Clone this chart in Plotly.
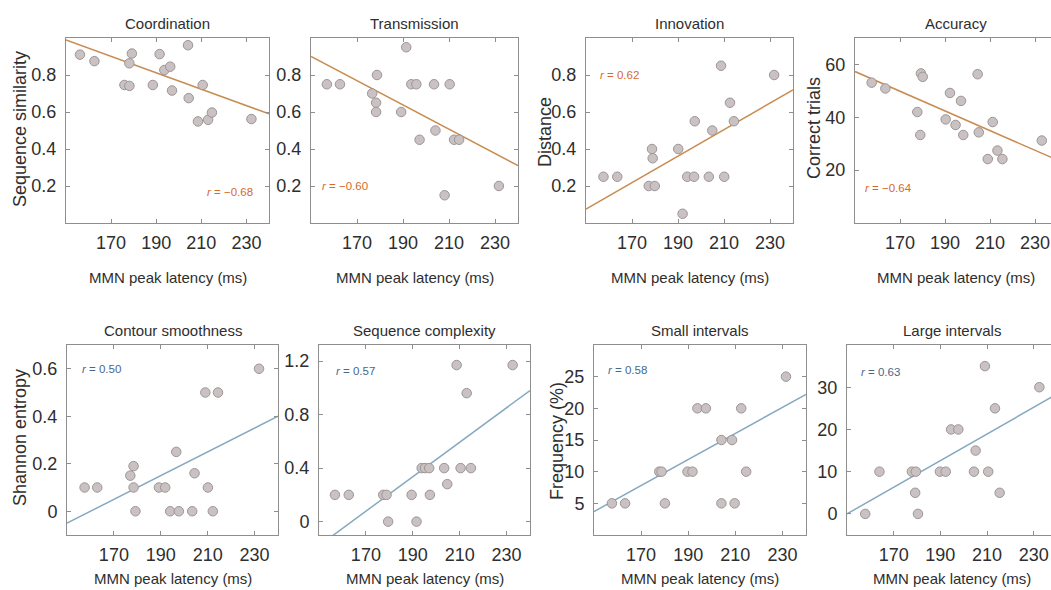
import plotly.graph_objects as go

W, H = 1051, 590

# ---------------- data ----------------
coord_x = [156.2, 162.6, 175.9, 178.1, 178.1, 179.2, 188.5, 191.5, 193.6, 196.2, 197.0, 204.1, 204.4, 208.5, 210.6, 213.0, 214.7, 232.2]
coord_y = [0.91, 0.875, 0.746, 0.741, 0.863, 0.916, 0.746, 0.913, 0.827, 0.845, 0.716, 0.961, 0.675, 0.549, 0.746, 0.558, 0.597, 0.562]

trans_x = [156.9, 162.6, 176.6, 178.7, 178.3, 178.3, 189.2, 191.4, 193.6, 195.8, 197.2, 203.5, 204.1, 208.1, 210.3, 212.2, 214.4, 231.7]
trans_y = [0.75, 0.75, 0.70, 0.80, 0.65, 0.60, 0.60, 0.95, 0.75, 0.75, 0.45, 0.75, 0.50, 0.15, 0.75, 0.45, 0.45, 0.20]

innov_x = [157.6, 163.6, 177.3, 179.9, 178.7, 179.0, 190.1, 192.0, 194.0, 197.0, 197.3, 203.4, 204.9, 208.7, 210.1, 212.6, 214.3, 231.8]
innov_y = [0.25, 0.25, 0.20, 0.20, 0.40, 0.35, 0.40, 0.05, 0.25, 0.25, 0.55, 0.25, 0.50, 0.85, 0.25, 0.65, 0.55, 0.80]

acc_x = [157.4, 163.5, 177.7, 179.3, 180.1, 179.0, 190.3, 192.2, 194.7, 197.1, 198.1, 204.5, 205.0, 209.0, 211.2, 213.3, 215.5, 233.0]
acc_y = [53.1, 50.9, 42.0, 56.6, 55.3, 33.3, 39.2, 49.2, 37.1, 46.2, 33.3, 56.3, 34.3, 24.2, 38.2, 27.4, 24.2, 31.2]

cont_x = [157.5, 162.9, 177.0, 178.4, 178.4, 179.2, 189.2, 191.9, 194.0, 196.6, 197.7, 203.4, 204.4, 209.0, 210.1, 212.2, 214.4, 231.9]
cont_y = [0.10, 0.10, 0.15, 0.19, 0.10, 0.00, 0.10, 0.10, 0.00, 0.25, 0.00, 0.00, 0.16, 0.50, 0.10, 0.00, 0.50, 0.60]

compl_x = [156.8, 162.7, 177.4, 178.8, 179.5, 189.5, 191.6, 193.8, 195.2, 197.0, 197.3, 203.4, 204.7, 208.7, 210.4, 213.0, 214.8, 232.6]
compl_y = [0.20, 0.20, 0.20, 0.20, 0.00, 0.20, 0.00, 0.40, 0.40, 0.40, 0.20, 0.40, 0.28, 1.17, 0.40, 0.96, 0.40, 1.17]

small_x = [157.6, 163.2, 177.7, 178.7, 180.1, 189.7, 191.8, 193.9, 197.5, 204.1, 204.1, 208.6, 209.7, 212.5, 214.6, 231.5]
small_y = [5, 5, 10, 10, 5, 10, 10, 20, 20, 15, 5, 15, 5, 20, 10, 25]

large_x = [157.8, 163.9, 177.8, 179.5, 179.2, 180.4, 189.8, 192.3, 194.6, 197.7, 204.4, 205.1, 209.1, 210.5, 213.4, 215.4, 232.4]
large_y = [0, 10, 10, 10, 5, 0, 10, 10, 20, 20, 10, 15, 35, 10, 25, 5, 30]

# regression line end points (at x = 150 and x = 240)
fit_x = [150, 240]
coord_fit = [0.99, 0.59]
trans_fit = [0.90, 0.31]
innov_fit = [0.075, 0.72]
acc_fit = [57.3, 23.8]
cont_fit = [-0.05, 0.40]
compl_fit = [-0.18, 0.98]
small_fit = [3.7, 22.2]
large_fit = [0.0, 28.4]

titles = ["Coordination", "Transmission", "Innovation", "Accuracy",
          "Contour smoothness", "Sequence complexity", "Small intervals", "Large intervals"]
ytitles = ["Sequence similarity", None, "Distance", "Correct trials",
           "Shannon entropy", None, "Frequency (%)", None]
r_texts = ["\u22120.68", "\u22120.60", "0.62", "\u22120.64", "0.50", "0.57", "0.58", "0.63"]
x_ticks = [170, 190, 210, 230]

# ---------------- styling / layout ----------------
ORANGE_LINE = "#c98c52"
ORANGE_TXT = "#d6692a"
BLUE_LINE = "#86a9c0"
BLUE_TXT = "#46698a"
FONT = "Liberation Sans, Arial, sans-serif"
TXT = "#2e2e2e"
AX = "#8e8e8e"

series = [
    (coord_x, coord_y, coord_fit), (trans_x, trans_y, trans_fit),
    (innov_x, innov_y, innov_fit), (acc_x, acc_y, acc_fit),
    (cont_x, cont_y, cont_fit), (compl_x, compl_y, compl_fit),
    (small_x, small_y, small_fit), (large_x, large_y, large_fit),
]

# pixel boxes: (left, right, top, bottom)
boxes = [
    (66, 269, 38, 223), (311, 518, 38, 223), (586, 793, 38, 223), (855, 1051, 38, 223),
    (67, 278, 345, 535), (319, 530, 345, 535), (594, 806, 345, 535), (847, 1051, 345, 535),
]
xranges = [[150, 240], [150, 240], [150, 240], [150, 237.1],
           [150, 240], [150, 240], [150, 240], [150, 237.4]]
yranges = [[0, 1], [0, 1], [0, 1], [0, 70], [-0.1, 0.7], [-0.1, 1.32], [0, 30], [-5, 40]]
yticks = [[0.2, 0.4, 0.6, 0.8], [0.2, 0.4, 0.6, 0.8], [0.2, 0.4, 0.6, 0.8], [20, 40, 60],
          [0, 0.2, 0.4, 0.6], [0, 0.4, 0.8, 1.2], [5, 10, 15, 20, 25], [0, 10, 20, 30]]
r_pos = [(234, 0.17, "right"), (154, 0.2, "left"), (155, 0.8, "left"), (153.6, 13.3, "left"),
         (155.5, 0.6, "left"), (156.4, 1.125, "left"), (155, 26, "left"), (155, 33.7, "left")]
ytitle_px = [(20, 129), None, (545, 132), (814, 128), (20, 438), None, (557, 441), None]

fig = go.Figure()
annotations = []
layout = {}

for i in range(8):
    n = i + 1
    xs, ys, fit = series[i]
    blue = i >= 4
    lc = BLUE_LINE if blue else ORANGE_LINE
    tc = BLUE_TXT if blue else ORANGE_TXT
    xa = "x" if n == 1 else f"x{n}"
    ya = "y" if n == 1 else f"y{n}"
    fig.add_trace(go.Scatter(x=fit_x, y=fit, mode="lines", xaxis=xa, yaxis=ya,
                             line=dict(color=lc, width=1.5), hoverinfo="skip", showlegend=False))
    fig.add_trace(go.Scatter(x=xs, y=ys, mode="markers", xaxis=xa, yaxis=ya,
                             marker=dict(size=9.5, color="#c9c1c2", line=dict(color="#9d9596", width=1)),
                             showlegend=False))
    l, r, t, b = boxes[i]
    cut = r >= W
    layout["xaxis" if n == 1 else f"xaxis{n}"] = dict(
        domain=[l / W, min(r / W, 1.0)], range=xranges[i], anchor=ya,
        tickvals=x_ticks, ticks="inside", ticklen=4, tickcolor=AX,
        showline=True, linecolor=AX, linewidth=1, mirror="ticks",
        showgrid=False, zeroline=False, automargin=False,
        tickfont=dict(size=18, color=TXT, family=FONT), ticklabelstandoff=3,
    )
    layout["yaxis" if n == 1 else f"yaxis{n}"] = dict(
        domain=[1 - b / H, 1 - t / H], range=yranges[i], anchor=xa,
        tickvals=yticks[i], ticks="inside", ticklen=4, tickcolor=AX,
        showline=True, linecolor=AX, linewidth=1, mirror=(False if cut else "ticks"),
        showgrid=False, zeroline=False, automargin=False,
        tickfont=dict(size=18, color=TXT, family=FONT), ticklabelstandoff=5,
    )
    cx = (l + r) / 2 if not cut else (l + r + 6) / 2
    title_y = 23 if i < 4 else 330
    xt_y = 277 if i < 4 else 578
    annotations.append(dict(text=titles[i], x=cx / W, y=1 - title_y / H, xref="paper", yref="paper",
                            xanchor="center", yanchor="middle", showarrow=False,
                            font=dict(size=15, color=TXT, family=FONT)))
    annotations.append(dict(text="MMN peak latency (ms)", x=cx / W, y=1 - xt_y / H, xref="paper", yref="paper",
                            xanchor="center", yanchor="middle", showarrow=False,
                            font=dict(size=15, color=TXT, family=FONT)))
    if ytitles[i]:
        px_, py_ = ytitle_px[i]
        annotations.append(dict(text=ytitles[i], x=px_ / W, y=1 - py_ / H, xref="paper", yref="paper",
                                xanchor="center", yanchor="middle", textangle=-90, showarrow=False,
                                font=dict(size=18, color=TXT, family=FONT)))
    rx, ry, anc = r_pos[i]
    annotations.append(dict(text="<i>r</i> = " + r_texts[i], x=rx, y=ry, xref=xa, yref=ya,
                            xanchor=anc, yanchor="middle", showarrow=False,
                            font=dict(size=11.5, color=tc, family=FONT)))

fig.update_layout(
    width=W, height=H, margin=dict(l=0, r=0, t=0, b=0),
    paper_bgcolor="white", plot_bgcolor="white",
    font=dict(family=FONT, color=TXT), showlegend=False,
    annotations=annotations, **layout,
)

fig.write_html("out.html")
